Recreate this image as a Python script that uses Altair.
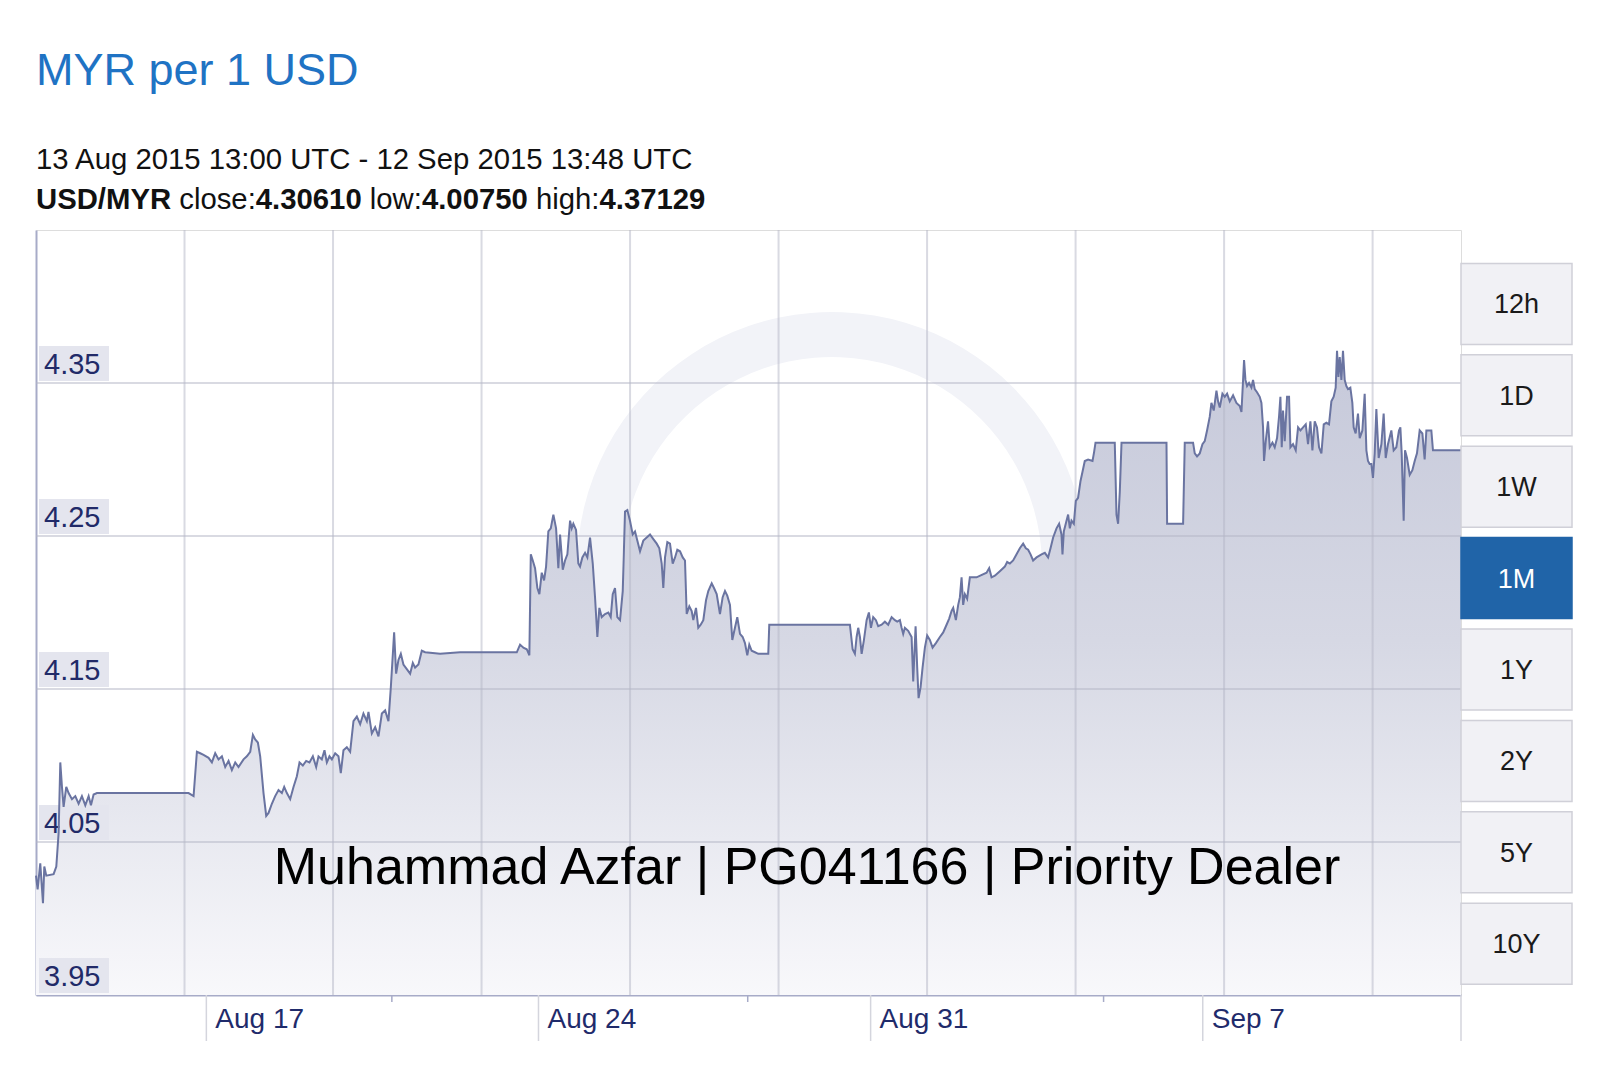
import altair as alt
import pandas as pd

FONT = "Liberation Sans"

# ---------------- texts ----------------
title_text = "MYR per 1 USD"
range_text = "13 Aug 2015 13:00 UTC - 12 Sep 2015 13:48 UTC"
stats_segments = [("USD/MYR", True), (" close:", False), ("4.30610", True),
                  (" low:", False), ("4.00750", True), (" high:", False), ("4.37129", True)]
watermark_text = "Muhammad Azfar | PG041166 | Priority Dealer"
buttons = ["12h", "1D", "1W", "1M", "1Y", "2Y", "5Y", "10Y"]
selected_button = "1M"

# ---------------- axes ----------------
y_ticks = [3.95, 4.05, 4.15, 4.25, 4.35]
y_tick_labels = ["3.95", "4.05", "4.15", "4.25", "4.35"]
x_major_times = ["2015-08-17T03:10:00", "2015-08-24T03:10:00",
                 "2015-08-31T03:10:00", "2015-09-07T03:10:00"]
x_major_labels = ["Aug 17", "Aug 24", "Aug 31", "Sep 7"]
x_minor_days = [7.5, 15.0, 22.5]
grid_days = [3.13, 6.26, 9.39, 12.52, 15.65, 18.78, 21.91, 25.04, 28.17]

START = pd.Timestamp("2015-08-13 13:00:00")
END_DAY = 30.033

# ---------------- data: (days since start, USD/MYR) ----------------
week1 = [(0.0, 4.028), (0.034, 4.019), (0.09, 4.036), (0.147, 4.010), (0.175, 4.034),
         (0.217, 4.028), (0.371, 4.029), (0.428, 4.034), (0.477, 4.056), (0.512, 4.102),
         (0.547, 4.086), (0.582, 4.073), (0.638, 4.086), (0.687, 4.082), (0.758, 4.078),
         (0.828, 4.080), (0.898, 4.075), (0.968, 4.080), (1.039, 4.074), (1.109, 4.080),
         (1.158, 4.074), (1.214, 4.081), (1.284, 4.082), (3.215, 4.082), (3.321, 4.080),
         (3.391, 4.109), (3.461, 4.108), (3.531, 4.107), (3.637, 4.105), (3.707, 4.102),
         (3.777, 4.108), (3.847, 4.104), (3.918, 4.106), (3.988, 4.099), (4.058, 4.103),
         (4.128, 4.097), (4.199, 4.102), (4.268, 4.099), (4.374, 4.104), (4.444, 4.106),
         (4.515, 4.109), (4.571, 4.120), (4.620, 4.117), (4.676, 4.115), (4.725, 4.106),
         (4.795, 4.082), (4.852, 4.067), (4.901, 4.069), (4.971, 4.075), (5.041, 4.080),
         (5.111, 4.084), (5.182, 4.082), (5.231, 4.086), (5.287, 4.082), (5.357, 4.078),
         (5.427, 4.086), (5.498, 4.093), (5.554, 4.102), (5.624, 4.100), (5.694, 4.103),
         (5.764, 4.102), (5.835, 4.106), (5.905, 4.099), (5.954, 4.106), (6.024, 4.104),
         (6.080, 4.110), (6.130, 4.102), (6.185, 4.106), (6.235, 4.104), (6.305, 4.108),
         (6.375, 4.106), (6.424, 4.095), (6.480, 4.110), (6.551, 4.112), (6.621, 4.109)]

week2 = [(6.691, 4.129), (6.762, 4.132), (6.832, 4.127), (6.901, 4.134), (6.973, 4.129),
         (7.007, 4.135), (7.078, 4.121), (7.148, 4.125), (7.218, 4.119), (7.289, 4.134),
         (7.358, 4.136), (7.428, 4.129), (7.478, 4.151), (7.521, 4.173), (7.548, 4.187),
         (7.590, 4.160), (7.639, 4.169), (7.689, 4.173), (7.744, 4.166), (7.815, 4.163),
         (7.885, 4.160), (7.942, 4.167), (7.990, 4.164), (8.060, 4.166), (8.131, 4.175),
         (8.201, 4.174), (8.517, 4.173), (8.938, 4.174), (9.360, 4.174), (10.133, 4.174),
         (10.202, 4.179), (10.272, 4.177), (10.343, 4.176), (10.398, 4.172), (10.428, 4.238),
         (10.470, 4.234), (10.518, 4.229), (10.567, 4.216), (10.609, 4.212), (10.659, 4.226),
         (10.708, 4.221), (10.750, 4.230), (10.798, 4.253), (10.849, 4.255), (10.904, 4.264),
         (10.961, 4.255), (11.009, 4.229), (11.045, 4.251), (11.102, 4.228), (11.150, 4.234),
         (11.199, 4.238), (11.256, 4.260), (11.291, 4.255), (11.325, 4.258), (11.382, 4.254),
         (11.430, 4.232), (11.466, 4.230), (11.515, 4.236), (11.572, 4.239), (11.620, 4.236),
         (11.677, 4.249), (11.734, 4.232), (11.782, 4.210), (11.831, 4.184), (11.873, 4.203),
         (11.923, 4.197), (11.993, 4.199), (12.062, 4.200), (12.113, 4.197), (12.155, 4.212),
         (12.203, 4.216), (12.252, 4.197), (12.309, 4.195), (12.366, 4.214), (12.414, 4.266),
         (12.463, 4.267), (12.519, 4.260), (12.576, 4.251), (12.625, 4.253), (12.673, 4.247),
         (12.730, 4.240), (12.800, 4.247), (12.871, 4.249)]

week3 = [(12.941, 4.251), (13.011, 4.248), (13.082, 4.245), (13.137, 4.242), (13.187, 4.232),
         (13.221, 4.216), (13.257, 4.236), (13.306, 4.246), (13.362, 4.245), (13.419, 4.232),
         (13.468, 4.236), (13.516, 4.241), (13.573, 4.240), (13.630, 4.236), (13.678, 4.234),
         (13.714, 4.199), (13.769, 4.204), (13.819, 4.201), (13.853, 4.195), (13.910, 4.203),
         (13.958, 4.190), (14.009, 4.192), (14.064, 4.195), (14.121, 4.208), (14.169, 4.214),
         (14.241, 4.219), (14.289, 4.216), (14.346, 4.212), (14.415, 4.199), (14.472, 4.210),
         (14.521, 4.214), (14.569, 4.211), (14.626, 4.205), (14.675, 4.182), (14.731, 4.190),
         (14.780, 4.197), (14.837, 4.186), (14.894, 4.184), (14.942, 4.180), (14.991, 4.172),
         (15.033, 4.179), (15.083, 4.175), (15.153, 4.174), (15.222, 4.173), (15.363, 4.173),
         (15.433, 4.173), (15.454, 4.192), (15.749, 4.192), (16.452, 4.192), (17.154, 4.192),
         (17.211, 4.176), (17.259, 4.173), (17.295, 4.184), (17.329, 4.190), (17.365, 4.184),
         (17.401, 4.173), (17.449, 4.182), (17.506, 4.195), (17.554, 4.200), (17.597, 4.190),
         (17.645, 4.197), (17.702, 4.195), (17.750, 4.191), (17.822, 4.192), (17.891, 4.194),
         (17.961, 4.192), (18.033, 4.197), (18.102, 4.195), (18.151, 4.194), (18.207, 4.195),
         (18.243, 4.190), (18.277, 4.186), (18.312, 4.190), (18.382, 4.188), (18.454, 4.184),
         (18.488, 4.155), (18.538, 4.191), (18.572, 4.164), (18.601, 4.144), (18.643, 4.151),
         (18.685, 4.164), (18.734, 4.177), (18.782, 4.185), (18.839, 4.182), (18.896, 4.177),
         (18.966, 4.180), (19.050, 4.184), (19.120, 4.187), (19.191, 4.192), (19.246, 4.196),
         (19.297, 4.201), (19.331, 4.203), (19.387, 4.195), (19.436, 4.205), (19.472, 4.210),
         (19.507, 4.223), (19.541, 4.205), (19.577, 4.212), (19.625, 4.209)]

week4 = [(19.682, 4.223), (19.823, 4.223), (20.034, 4.226), (20.089, 4.229), (20.139, 4.223),
         (20.209, 4.224), (20.314, 4.227), (20.419, 4.230), (20.468, 4.233), (20.525, 4.232),
         (20.594, 4.234), (20.666, 4.238), (20.735, 4.242), (20.805, 4.245), (20.862, 4.242),
         (20.910, 4.241), (20.961, 4.238), (21.015, 4.234), (21.087, 4.236), (21.192, 4.238),
         (21.262, 4.239), (21.331, 4.236), (21.382, 4.242), (21.437, 4.249), (21.508, 4.255),
         (21.563, 4.258), (21.613, 4.251), (21.634, 4.238), (21.662, 4.253), (21.719, 4.260),
         (21.753, 4.264), (21.789, 4.255), (21.824, 4.260), (21.873, 4.258), (21.915, 4.273),
         (21.963, 4.275), (22.014, 4.286), (22.056, 4.292), (22.104, 4.299), (22.174, 4.300),
         (22.267, 4.299), (22.301, 4.305), (22.330, 4.311), (22.736, 4.311), (22.772, 4.264),
         (22.806, 4.258), (22.842, 4.279), (22.878, 4.311), (23.826, 4.311), (23.839, 4.258),
         (24.176, 4.258), (24.211, 4.311), (24.386, 4.311), (24.422, 4.304), (24.470, 4.302)]

week5 = [(24.527, 4.304), (24.584, 4.310), (24.632, 4.312), (24.681, 4.319), (24.738, 4.328),
         (24.773, 4.337), (24.822, 4.332), (24.879, 4.345), (24.913, 4.338), (24.949, 4.334),
         (25.005, 4.343), (25.054, 4.341), (25.103, 4.343), (25.159, 4.338), (25.229, 4.342),
         (25.300, 4.337), (25.370, 4.335), (25.406, 4.331), (25.440, 4.352), (25.461, 4.365),
         (25.490, 4.352), (25.524, 4.348), (25.566, 4.350), (25.616, 4.347), (25.650, 4.352),
         (25.686, 4.346), (25.734, 4.344), (25.791, 4.341), (25.827, 4.337), (25.861, 4.321),
         (25.882, 4.299), (25.918, 4.312), (25.966, 4.325), (26.002, 4.308), (26.059, 4.311),
         (26.107, 4.308), (26.156, 4.314), (26.198, 4.328), (26.227, 4.341), (26.255, 4.308),
         (26.282, 4.332), (26.318, 4.312), (26.367, 4.341), (26.409, 4.341), (26.438, 4.308),
         (26.493, 4.310), (26.550, 4.306), (26.599, 4.321), (26.649, 4.319), (26.704, 4.321),
         (26.761, 4.323), (26.809, 4.310), (26.859, 4.325), (26.901, 4.306), (26.950, 4.325),
         (26.998, 4.321), (27.041, 4.308), (27.091, 4.304), (27.140, 4.323), (27.196, 4.324),
         (27.251, 4.323), (27.301, 4.338), (27.350, 4.341), (27.392, 4.347), (27.420, 4.371),
         (27.449, 4.354), (27.477, 4.367), (27.512, 4.352), (27.546, 4.371), (27.582, 4.352),
         (27.617, 4.348), (27.651, 4.346), (27.701, 4.347), (27.743, 4.337), (27.771, 4.321),
         (27.813, 4.317), (27.862, 4.330), (27.898, 4.314), (27.955, 4.319), (28.003, 4.343),
         (28.039, 4.306), (28.073, 4.299), (28.108, 4.297), (28.144, 4.297), (28.178, 4.288),
         (28.214, 4.304), (28.249, 4.333), (28.298, 4.301), (28.355, 4.310), (28.403, 4.330),
         (28.446, 4.301), (28.494, 4.310), (28.565, 4.319), (28.614, 4.306), (28.670, 4.308),
         (28.726, 4.319), (28.755, 4.321), (28.783, 4.304), (28.825, 4.260), (28.853, 4.306),
         (28.895, 4.301), (28.952, 4.290), (29.008, 4.293), (29.057, 4.299), (29.105, 4.304),
         (29.162, 4.319), (29.219, 4.317), (29.267, 4.300), (29.303, 4.319), (29.358, 4.319),
         (29.408, 4.319), (29.442, 4.306), (30.033, 4.306)]


def iso(day):
    return (START + pd.Timedelta(days=day)).strftime("%Y-%m-%dT%H:%M:%S.000Z")


def ms(day):
    return int((START + pd.Timedelta(days=day)).value // 10**6)


series = week1 + week2 + week3 + week4 + week5
df = pd.DataFrame(series, columns=["day", "rate"])
df["t"] = [iso(d) for d in df["day"]]

# ---------------- layout ----------------
W, H = 1425, 765
xs = alt.Scale(type="utc", domain=[ms(0), ms(END_DAY)], nice=False)
ys = alt.Scale(domain=[3.95, 4.45], zero=False, nice=False)
x_axis = alt.Axis(title=None, labels=False, ticks=False, grid=False,
                  domainColor="#a7abc8", domainWidth=2)
y_axis = alt.Axis(title=None, labels=False, ticks=False, grid=False,
                  domainColor="#a7abc8", domainWidth=2)


def X():
    return alt.X("t:T", scale=xs, axis=x_axis)


def Y():
    return alt.Y("rate:Q", scale=ys, axis=y_axis)


gradient = alt.Gradient(gradient="linear",
                        stops=[alt.GradientStop(color="#c6c9da", offset=0),
                               alt.GradientStop(color="#d6d8e4", offset=0.45),
                               alt.GradientStop(color="#f8f8fb", offset=1)],
                        x1=1, x2=1, y1=0, y2=1)

# faint "xe" logo ring behind the chart
logo = alt.Chart(pd.DataFrame({"s": ["logo"]})).mark_arc(
    radius=255, radius2=210, theta=4.2, theta2=8.2, color="#f2f3f8").encode(
    x=alt.value(796), y=alt.value(337))

area = alt.Chart(df).mark_area(color=gradient).encode(x=X(), y=Y(), y2=alt.datum(3.95))
line = alt.Chart(df).mark_line(color="#6a74a1", strokeWidth=2).encode(x=X(), y=Y())

grid_df = pd.DataFrame({"t": [iso(d) for d in grid_days]})
vgrid = alt.Chart(grid_df).mark_rule(color="#b4b6c6", opacity=0.5, strokeWidth=2).encode(
    x=X(), y=alt.value(0), y2=alt.value(H))

hgrid_df = pd.DataFrame({"rate": y_ticks[1:]})
hgrid = alt.Chart(hgrid_df).mark_rule(color="#b4b6c6", opacity=0.5, strokeWidth=2).encode(
    y=Y(), x=alt.value(0), x2=alt.value(W))

major_df = pd.DataFrame({"t": [pd.Timestamp(s).strftime("%Y-%m-%dT%H:%M:%S.000Z") for s in x_major_times],
                         "lbl": x_major_labels})
end_df = pd.DataFrame({"t": [iso(END_DAY)]})
major_ticks = alt.Chart(major_df).mark_rule(color="#d4d5dd", strokeWidth=1.5).encode(
    x=X(), y=alt.value(H), y2=alt.value(H + 46))
end_tick = alt.Chart(end_df).mark_rule(color="#d4d5dd", strokeWidth=1.5).encode(
    x=X(), y=alt.value(H), y2=alt.value(H + 46))
minor_df = pd.DataFrame({"t": [iso(d) for d in x_minor_days]})
minor_ticks = alt.Chart(minor_df).mark_rule(color="#a7abc8", strokeWidth=1.5).encode(
    x=X(), y=alt.value(H), y2=alt.value(H + 7))
x_labels = alt.Chart(major_df).mark_text(align="left", baseline="alphabetic", dx=9,
                                         fontSize=28, font=FONT, color="#1f2b6b").encode(
    x=X(), y=alt.value(H + 33), text="lbl:N")

ytick_df = pd.DataFrame({"rate": y_ticks, "lbl": y_tick_labels})
y_boxes = alt.Chart(ytick_df).mark_rect(color="#e4e5ee", yOffset=-2, y2Offset=-37).encode(
    x=alt.value(3), x2=alt.value(73), y=Y(), y2=alt.Y2("rate:Q"))
y_labels = alt.Chart(ytick_df).mark_text(align="left", baseline="alphabetic", dy=-9,
                                         fontSize=29, font=FONT, color="#212a68").encode(
    x=alt.value(8), y=Y(), text="lbl:N")

watermark = alt.Chart(pd.DataFrame({"s": [watermark_text]})).mark_text(
    align="center", baseline="alphabetic", fontSize=52, font=FONT, color="#000000").encode(
    x=alt.value(771), y=alt.value(654), text="s:N")

layers = [logo, area, vgrid, hgrid, major_ticks, end_tick, minor_ticks, y_boxes, y_labels,
          line, x_labels, watermark]

# header
layers.append(alt.Chart(pd.DataFrame({"s": [title_text]})).mark_text(
    align="left", baseline="alphabetic", fontSize=45, font=FONT, color="#1f73c4").encode(
    x=alt.value(0), y=alt.value(-145), text="s:N"))
layers.append(alt.Chart(pd.DataFrame({"s": [range_text]})).mark_text(
    align="left", baseline="alphabetic", fontSize=29.3, font=FONT, color="#111111").encode(
    x=alt.value(0), y=alt.value(-61), text="s:N"))

REG = {' ': 278, 'c': 500, 'l': 222, 'o': 556, 's': 500, 'e': 556, ':': 278,
       'w': 722, 'h': 556, 'i': 222, 'g': 556, '.': 278}
BOLD = {' ': 278, 'U': 722, 'S': 667, 'D': 722, '/': 278, 'M': 833, 'Y': 667, 'R': 722, '.': 278}
stat_size = 29.3
cx = 0.0
for seg, bold in stats_segments:
    table = BOLD if bold else REG
    body = seg.lstrip(" ")
    cx += (len(seg) - len(body)) * table[' '] * stat_size / 1000.0
    layers.append(alt.Chart(pd.DataFrame({"s": [body]})).mark_text(
        align="left", baseline="alphabetic", fontSize=stat_size, font=FONT,
        fontWeight="bold" if bold else "normal", color="#111111").encode(
        x=alt.value(cx), y=alt.value(-21), text="s:N"))
    cx += sum(table.get(ch, 556) for ch in body) * stat_size / 1000.0

# range buttons
for i, lab in enumerate(buttons):
    top = 33.4 + 91.4 * i
    sel = lab == selected_button
    layers.append(alt.Chart(pd.DataFrame({"b": [lab]})).mark_rect(
        fill="#2064a8" if sel else "#f1f1f5", stroke="#2064a8" if sel else "#d0d0d8",
        strokeWidth=1.5).encode(
        x=alt.value(W), x2=alt.value(W + 111), y=alt.value(top), y2=alt.value(top + 81)))
    layers.append(alt.Chart(pd.DataFrame({"b": [lab]})).mark_text(
        align="center", baseline="middle", fontSize=27, font=FONT,
        color="#ffffff" if sel else "#1a1a1a").encode(
        x=alt.value(W + 55.5), y=alt.value(top + 42), text="b:N"))

chart = alt.layer(*layers).properties(
    width=W, height=H,
    padding={"left": 28, "top": 222, "right": 130, "bottom": 60},
    autosize=alt.AutoSizeParams(type="none"),
    background="#ffffff",
).configure_view(stroke="#d9d9e0", strokeWidth=1.5).configure(font=FONT)

chart.save("out.html", embed_options={"renderer": "svg", "actions": False})
